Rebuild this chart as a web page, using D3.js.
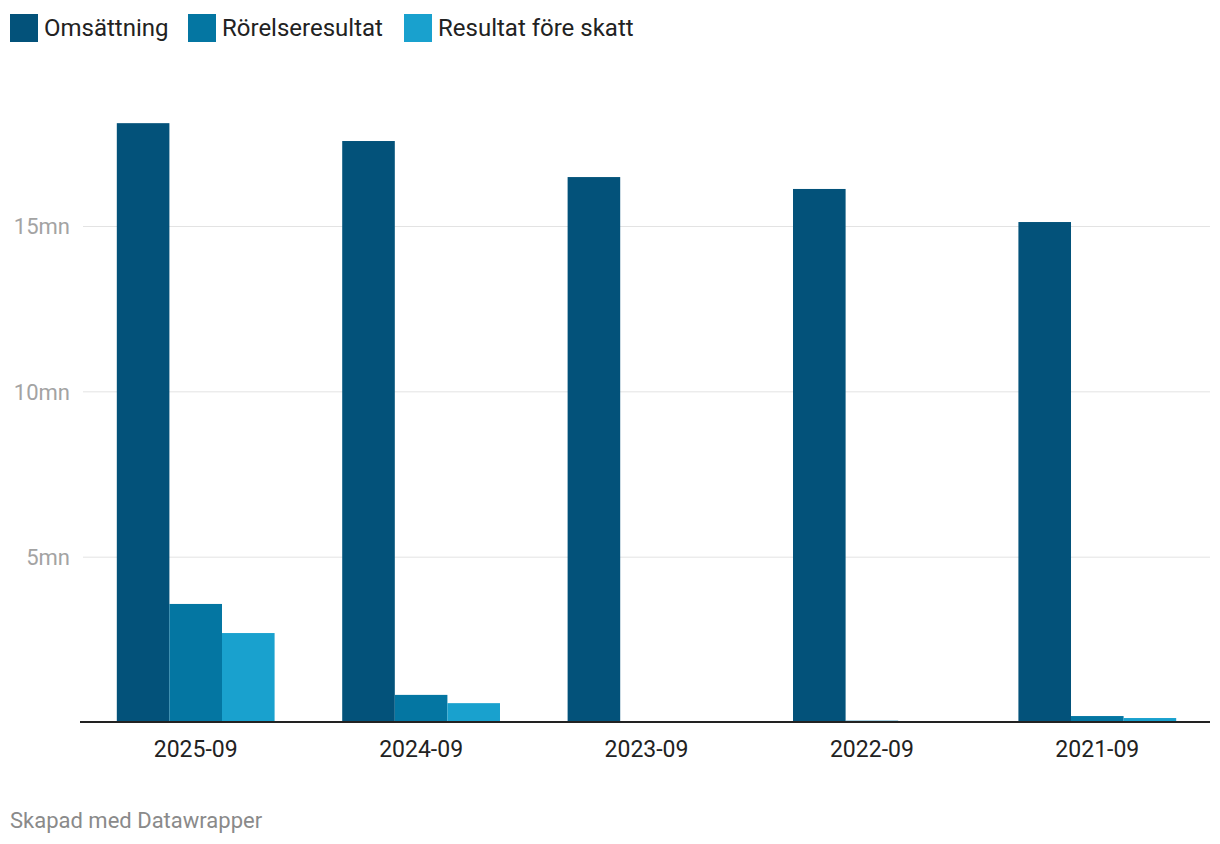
<!DOCTYPE html>
<html><head><meta charset="utf-8">
<script src="https://cdn.jsdelivr.net/npm/d3@7"></script>
<style>body{margin:0;background:#fff;font-family:Roboto,sans-serif}</style>
</head><body><svg id="c" width="1220" height="844"></svg>
<script>
const categories = ["2025-09","2024-09","2023-09","2022-09","2021-09"];
const seriesNames = ["Omsättning","Rörelseresultat","Resultat före skatt"];
const omsattning = [18.11, 17.57, 16.48, 16.12, 15.12];
const rorelseresultat = [3.57, 0.82, 0, 0.04, 0.18];
const resultatForeSkatt = [2.69, 0.57, 0, 0.03, 0.12];
const yTicks = [5, 10, 15];
const colors = ["#03527a","#0476a2","#19a1ce"];

(function(){
const series = [omsattning, rorelseresultat, resultatForeSkatt];
const svg = d3.select("#c");
const mLeft = 83, mRight = 1210, mBottom = 722;
const y = d3.scaleLinear().domain([0,15]).range([mBottom, 226]);
const x0 = d3.scaleBand().domain(categories).range([mLeft,mRight]).paddingInner(0.3).paddingOuter(0.15);
const x1 = d3.scaleBand().domain(seriesNames).range([0,x0.bandwidth()]);

const yAxis = d3.axisLeft(y).tickValues(yTicks).tickSize(-(mRight-mLeft)).tickFormat(d=>d+"mn");
const ga = svg.append("g").attr("transform",`translate(${mLeft},0)`).call(yAxis);
ga.select(".domain").remove();
ga.selectAll(".tick line").attr("stroke","#e3e3e3").attr("stroke-width",1);
ga.selectAll(".tick text").attr("x",-13).attr("dy","0.36em").attr("fill","#a3a3a3").style("font-family","Roboto").style("font-size","22px");

const groups = svg.append("g").selectAll("g").data(categories).join("g")
  .attr("transform",d=>`translate(${x0(d)},0)`);
groups.selectAll("rect").data((d,i)=>seriesNames.map((s,j)=>({s,j,v:series[j][i]}))).join("rect")
  .attr("x",d=>x1(d.s)).attr("width",x1.bandwidth())
  .attr("y",d=>y(d.v)).attr("height",d=>y(0)-y(d.v))
  .attr("fill",d=>colors[d.j]);

const xa = svg.append("g").attr("transform",`translate(0,${mBottom})`).call(d3.axisBottom(x0).tickSize(0).tickPadding(0));
xa.select(".domain").attr("stroke","#222").attr("stroke-width",2).attr("d",`M${mLeft-3},0H${mRight}`);
xa.selectAll(".tick text").attr("y",35).attr("dy",0).attr("fill","#222").style("font-family","Roboto").style("font-size","23px");

const legX = [10,188,404];
const lg = svg.append("g");
seriesNames.forEach((s,i)=>{
  lg.append("rect").attr("x",legX[i]).attr("y",14).attr("width",28).attr("height",28).attr("fill",colors[i]);
  lg.append("text").attr("x",legX[i]+34).attr("y",36).text(s).attr("fill","#222").style("font-family","Roboto").style("font-size","24px");
});

svg.append("text").attr("x",10).attr("y",828).text("Skapad med Datawrapper").attr("fill","#8a8a8a").style("font-family","Roboto").style("font-size","22px");
})();
</script></body></html>
